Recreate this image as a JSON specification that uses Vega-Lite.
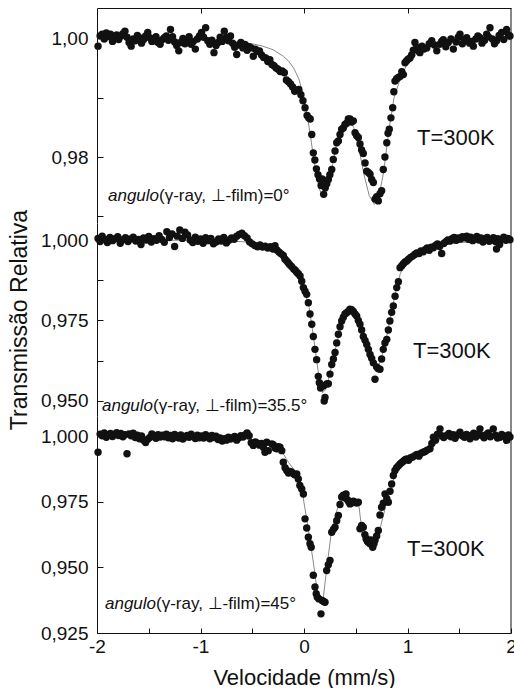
{
  "$schema": "https://vega.github.io/schema/vega-lite/v6.json",
  "padding": {"left": 8, "top": 7, "right": 0, "bottom": 0},
  "spacing": 0,
  "bounds": "flush",
  "config": {
    "view": {"stroke": null},
    "axis": {"grid": false, "domainColor": "#111", "tickColor": "#111", "labelColor": "#111", "titleColor": "#111", "labelFont": "Liberation Sans", "titleFont": "Liberation Sans", "titleFontWeight": "normal", "domainWidth": 1, "tickWidth": 1},
    "text": {"font": "Liberation Sans", "color": "#111"}
  },
  "datasets": {
    "p0": [
      {"v":-1.99,"t":0.9987},{"v":-1.97,"t":1.0004},{"v":-1.95,"t":1.0007},{"v":-1.93,"t":0.9999},{"v":-1.91,"t":1.0009},{"v":-1.89,"t":1.0003},{"v":-1.87,"t":1.0007},{"v":-1.85,"t":0.9995},{"v":-1.83,"t":1.0001},{"v":-1.81,"t":1.0006},{"v":-1.79,"t":0.9998},{"v":-1.77,"t":1.0004},{"v":-1.75,"t":1.0008},{"v":-1.73,"t":1.0012},{"v":-1.71,"t":1.0002},{"v":-1.69,"t":0.9993},{"v":-1.67,"t":0.9987},{"v":-1.65,"t":0.9999},{"v":-1.63,"t":0.9996},{"v":-1.61,"t":1.0005},{"v":-1.59,"t":1.0001},{"v":-1.57,"t":0.9992},{"v":-1.55,"t":0.9998},{"v":-1.53,"t":1.0004},{"v":-1.51,"t":1.0010},{"v":-1.49,"t":1.0001},{"v":-1.47,"t":0.9995},{"v":-1.45,"t":0.9996},{"v":-1.43,"t":1.0003},{"v":-1.41,"t":0.9993},{"v":-1.39,"t":0.9990},{"v":-1.37,"t":0.9998},{"v":-1.35,"t":1.0001},{"v":-1.33,"t":1.0004},{"v":-1.31,"t":0.9997},{"v":-1.29,"t":1.0015},{"v":-1.27,"t":1.0003},{"v":-1.25,"t":0.9994},{"v":-1.23,"t":0.9988},{"v":-1.21,"t":0.9979},{"v":-1.19,"t":0.9993},{"v":-1.17,"t":1.0000},{"v":-1.15,"t":0.9991},{"v":-1.13,"t":0.9996},{"v":-1.11,"t":1.0003},{"v":-1.09,"t":0.9990},{"v":-1.07,"t":0.9995},{"v":-1.05,"t":0.9982},{"v":-1.03,"t":0.9999},{"v":-1.01,"t":1.0004},{"v":-0.99,"t":1.0010},{"v":-0.97,"t":1.0002},{"v":-0.95,"t":1.0018},{"v":-0.93,"t":0.9996},{"v":-0.91,"t":0.9990},{"v":-0.89,"t":0.9997},{"v":-0.87,"t":0.9976},{"v":-0.85,"t":0.9988},{"v":-0.83,"t":0.9993},{"v":-0.81,"t":1.0002},{"v":-0.79,"t":0.9995},{"v":-0.77,"t":1.0012},{"v":-0.75,"t":1.0001},{"v":-0.73,"t":0.9996},{"v":-0.71,"t":1.0004},{"v":-0.69,"t":0.9992},{"v":-0.67,"t":0.9985},{"v":-0.65,"t":0.9973},{"v":-0.63,"t":0.9989},{"v":-0.61,"t":0.9993},{"v":-0.59,"t":0.9984},{"v":-0.57,"t":0.9990},{"v":-0.55,"t":0.9980},{"v":-0.53,"t":0.9986},{"v":-0.51,"t":0.9984},{"v":-0.49,"t":0.9970},{"v":-0.47,"t":0.9982},{"v":-0.45,"t":0.9978},{"v":-0.43,"t":0.9979},{"v":-0.41,"t":0.9972},{"v":-0.39,"t":0.9968},{"v":-0.37,"t":0.9967},{"v":-0.35,"t":0.9961},{"v":-0.33,"t":0.9964},{"v":-0.31,"t":0.9956},{"v":-0.29,"t":0.9954},{"v":-0.27,"t":0.9950},{"v":-0.25,"t":0.9948},{"v":-0.23,"t":0.9944},{"v":-0.21,"t":0.9945},{"v":-0.19,"t":0.9942},{"v":-0.17,"t":0.9930},{"v":-0.15,"t":0.9927},{"v":-0.13,"t":0.9923},{"v":-0.11,"t":0.9918},{"v":-0.09,"t":0.9911},{"v":-0.07,"t":0.9913},{"v":-0.05,"t":0.9914},{"v":-0.03,"t":0.9905},{"v":-0.01,"t":0.9895},{"v":0.01,"t":0.9883},{"v":0.03,"t":0.9870},{"v":0.045,"t":0.9866},{"v":0.06,"t":0.9864},{"v":0.075,"t":0.9838},{"v":0.09,"t":0.9807},{"v":0.105,"t":0.9795},{"v":0.12,"t":0.9780},{"v":0.135,"t":0.9770},{"v":0.15,"t":0.9763},{"v":0.165,"t":0.9752},{"v":0.175,"t":0.9763},{"v":0.19,"t":0.9737},{"v":0.205,"t":0.9748},{"v":0.22,"t":0.9755},{"v":0.235,"t":0.9762},{"v":0.25,"t":0.9770},{"v":0.268,"t":0.9779},{"v":0.283,"t":0.9796},{"v":0.30,"t":0.9810},{"v":0.316,"t":0.9824},{"v":0.332,"t":0.9827},{"v":0.348,"t":0.9838},{"v":0.364,"t":0.9847},{"v":0.38,"t":0.9849},{"v":0.396,"t":0.9855},{"v":0.412,"t":0.9857},{"v":0.428,"t":0.9864},{"v":0.444,"t":0.9864},{"v":0.46,"t":0.9859},{"v":0.477,"t":0.9861},{"v":0.493,"t":0.9841},{"v":0.509,"t":0.9836},{"v":0.525,"t":0.9833},{"v":0.541,"t":0.9822},{"v":0.557,"t":0.9812},{"v":0.573,"t":0.9806},{"v":0.59,"t":0.9790},{"v":0.606,"t":0.9776},{"v":0.622,"t":0.9774},{"v":0.638,"t":0.9771},{"v":0.654,"t":0.9762},{"v":0.67,"t":0.9757},{"v":0.686,"t":0.9729},{"v":0.702,"t":0.9733},{"v":0.718,"t":0.9726},{"v":0.734,"t":0.9738},{"v":0.75,"t":0.9743},{"v":0.766,"t":0.9779},{"v":0.782,"t":0.9800},{"v":0.80,"t":0.9824},{"v":0.812,"t":0.9840},{"v":0.824,"t":0.9847},{"v":0.84,"t":0.9866},{"v":0.857,"t":0.9883},{"v":0.868,"t":0.9910},{"v":0.879,"t":0.9928},{"v":0.895,"t":0.9932},{"v":0.911,"t":0.9934},{"v":0.93,"t":0.9936},{"v":0.945,"t":0.9944},{"v":0.96,"t":0.9939},{"v":0.976,"t":0.9959},{"v":0.99,"t":0.9962},{"v":1.005,"t":0.9965},{"v":1.024,"t":0.9967},{"v":1.04,"t":0.9972},{"v":1.056,"t":0.9980},{"v":1.072,"t":0.9993},{"v":1.09,"t":0.9985},{"v":1.105,"t":0.9979},{"v":1.12,"t":0.9976},{"v":1.14,"t":0.9987},{"v":1.16,"t":0.9982},{"v":1.186,"t":0.9984},{"v":1.21,"t":0.9991},{"v":1.234,"t":0.9996},{"v":1.26,"t":0.9989},{"v":1.283,"t":0.9979},{"v":1.31,"t":0.9990},{"v":1.33,"t":0.9995},{"v":1.346,"t":0.9998},{"v":1.37,"t":0.9986},{"v":1.394,"t":0.9993},{"v":1.42,"t":0.9999},{"v":1.443,"t":0.9982},{"v":1.47,"t":0.9994},{"v":1.49,"t":1.0002},{"v":1.507,"t":1.0007},{"v":1.53,"t":0.9991},{"v":1.55,"t":0.9998},{"v":1.572,"t":1.0001},{"v":1.60,"t":0.9992},{"v":1.62,"t":0.9995},{"v":1.636,"t":0.9987},{"v":1.66,"t":0.9999},{"v":1.68,"t":1.0004},{"v":1.70,"t":1.0001},{"v":1.72,"t":0.9992},{"v":1.745,"t":0.9997},{"v":1.765,"t":1.0007},{"v":1.78,"t":1.0003},{"v":1.797,"t":1.0018},{"v":1.82,"t":0.9999},{"v":1.84,"t":0.9991},{"v":1.861,"t":0.9996},{"v":1.885,"t":1.0005},{"v":1.91,"t":1.0010},{"v":1.93,"t":0.9998},{"v":1.958,"t":1.0015},{"v":1.975,"t":1.0006},{"v":1.99,"t":1.0004}
    ],
    "f0": [
      {"v":-2.0,"t":1.0000},{"v":-1.5,"t":0.9999},{"v":-1.0,"t":0.9998},{"v":-0.7,"t":0.9995},{"v":-0.5,"t":0.9991},{"v":-0.4,"t":0.9987},{"v":-0.3,"t":0.9981},{"v":-0.2,"t":0.9970},{"v":-0.15,"t":0.9962},{"v":-0.1,"t":0.9950},{"v":-0.05,"t":0.9932},{"v":0.0,"t":0.9900},{"v":0.05,"t":0.9850},{"v":0.1,"t":0.9790},{"v":0.15,"t":0.9745},{"v":0.19,"t":0.9731},{"v":0.23,"t":0.9745},{"v":0.28,"t":0.9790},{"v":0.33,"t":0.9835},{"v":0.38,"t":0.9858},{"v":0.43,"t":0.9864},{"v":0.48,"t":0.9850},{"v":0.53,"t":0.9815},{"v":0.58,"t":0.9770},{"v":0.63,"t":0.9735},{"v":0.68,"t":0.9720},{"v":0.72,"t":0.9730},{"v":0.77,"t":0.9775},{"v":0.82,"t":0.9845},{"v":0.87,"t":0.9900},{"v":0.93,"t":0.9932},{"v":1.0,"t":0.9958},{"v":1.1,"t":0.9976},{"v":1.2,"t":0.9986},{"v":1.4,"t":0.9993},{"v":1.7,"t":0.9997},{"v":2.0,"t":0.9998}
    ],
    "p35": [
      {"v":-1.99,"t":1.0005},{"v":-1.97,"t":0.9995},{"v":-1.95,"t":1.0012},{"v":-1.925,"t":1.0002},{"v":-1.90,"t":0.9992},{"v":-1.875,"t":1.0008},{"v":-1.85,"t":0.9998},{"v":-1.825,"t":1.0004},{"v":-1.80,"t":1.0010},{"v":-1.775,"t":0.9990},{"v":-1.75,"t":1.0001},{"v":-1.725,"t":1.0007},{"v":-1.70,"t":0.9995},{"v":-1.675,"t":1.0003},{"v":-1.65,"t":1.0009},{"v":-1.625,"t":0.9997},{"v":-1.60,"t":1.0002},{"v":-1.575,"t":0.9986},{"v":-1.55,"t":1.0006},{"v":-1.525,"t":1.0000},{"v":-1.50,"t":1.0011},{"v":-1.475,"t":0.9994},{"v":-1.45,"t":1.0004},{"v":-1.425,"t":0.9999},{"v":-1.40,"t":1.0013},{"v":-1.375,"t":1.0002},{"v":-1.35,"t":0.9993},{"v":-1.325,"t":1.0026},{"v":-1.30,"t":1.0008},{"v":-1.275,"t":1.0019},{"v":-1.25,"t":0.9980},{"v":-1.225,"t":1.0012},{"v":-1.20,"t":1.0031},{"v":-1.175,"t":1.0005},{"v":-1.15,"t":1.0024},{"v":-1.125,"t":1.0016},{"v":-1.10,"t":1.0000},{"v":-1.075,"t":0.9992},{"v":-1.05,"t":1.0009},{"v":-1.025,"t":0.9996},{"v":-1.00,"t":1.0003},{"v":-0.975,"t":0.9990},{"v":-0.95,"t":1.0007},{"v":-0.925,"t":0.9998},{"v":-0.90,"t":1.0005},{"v":-0.875,"t":0.9988},{"v":-0.85,"t":0.9994},{"v":-0.825,"t":1.0003},{"v":-0.80,"t":0.9997},{"v":-0.775,"t":1.0008},{"v":-0.75,"t":0.9991},{"v":-0.725,"t":0.9999},{"v":-0.70,"t":1.0006},{"v":-0.675,"t":1.0002},{"v":-0.65,"t":1.0012},{"v":-0.625,"t":1.0017},{"v":-0.60,"t":1.0021},{"v":-0.575,"t":1.0013},{"v":-0.55,"t":1.0006},{"v":-0.525,"t":0.9994},{"v":-0.50,"t":0.9988},{"v":-0.475,"t":0.9983},{"v":-0.45,"t":0.9979},{"v":-0.425,"t":0.9985},{"v":-0.40,"t":0.9978},{"v":-0.375,"t":0.9981},{"v":-0.35,"t":0.9975},{"v":-0.325,"t":0.9979},{"v":-0.30,"t":0.9972},{"v":-0.28,"t":0.9982},{"v":-0.26,"t":0.9968},{"v":-0.24,"t":0.9962},{"v":-0.22,"t":0.9957},{"v":-0.20,"t":0.9952},{"v":-0.185,"t":0.9941},{"v":-0.17,"t":0.9936},{"v":-0.155,"t":0.9930},{"v":-0.14,"t":0.9924},{"v":-0.12,"t":0.9918},{"v":-0.10,"t":0.9910},{"v":-0.085,"t":0.9906},{"v":-0.07,"t":0.9900},{"v":-0.055,"t":0.9895},{"v":-0.038,"t":0.9888},{"v":-0.022,"t":0.9872},{"v":-0.006,"t":0.9852},{"v":0.01,"t":0.9841},{"v":0.026,"t":0.9831},{"v":0.042,"t":0.9805},{"v":0.058,"t":0.9770},{"v":0.075,"t":0.9738},{"v":0.09,"t":0.9700},{"v":0.106,"t":0.9660},{"v":0.122,"t":0.9628},{"v":0.138,"t":0.9576},{"v":0.148,"t":0.9556},{"v":0.16,"t":0.9540},{"v":0.172,"t":0.9548},{"v":0.186,"t":0.9546},{"v":0.195,"t":0.9499},{"v":0.203,"t":0.9510},{"v":0.219,"t":0.9552},{"v":0.235,"t":0.9553},{"v":0.251,"t":0.9583},{"v":0.268,"t":0.9613},{"v":0.284,"t":0.9630},{"v":0.30,"t":0.9650},{"v":0.316,"t":0.9680},{"v":0.332,"t":0.9707},{"v":0.348,"t":0.9730},{"v":0.364,"t":0.9748},{"v":0.38,"t":0.9760},{"v":0.396,"t":0.9770},{"v":0.412,"t":0.9774},{"v":0.428,"t":0.9778},{"v":0.444,"t":0.9785},{"v":0.46,"t":0.9783},{"v":0.477,"t":0.9778},{"v":0.493,"t":0.9770},{"v":0.509,"t":0.9764},{"v":0.525,"t":0.9750},{"v":0.541,"t":0.9738},{"v":0.557,"t":0.9720},{"v":0.573,"t":0.9700},{"v":0.59,"t":0.9688},{"v":0.606,"t":0.9675},{"v":0.622,"t":0.9660},{"v":0.638,"t":0.9644},{"v":0.654,"t":0.9632},{"v":0.67,"t":0.9618},{"v":0.686,"t":0.9567},{"v":0.702,"t":0.9605},{"v":0.718,"t":0.9600},{"v":0.734,"t":0.9598},{"v":0.75,"t":0.9630},{"v":0.766,"t":0.9660},{"v":0.782,"t":0.9680},{"v":0.80,"t":0.9691},{"v":0.815,"t":0.9720},{"v":0.83,"t":0.9748},{"v":0.847,"t":0.9775},{"v":0.863,"t":0.9795},{"v":0.88,"t":0.9825},{"v":0.896,"t":0.9852},{"v":0.912,"t":0.9870},{"v":0.928,"t":0.9914},{"v":0.945,"t":0.9920},{"v":0.96,"t":0.9926},{"v":0.976,"t":0.9932},{"v":0.993,"t":0.9935},{"v":1.01,"t":0.9940},{"v":1.03,"t":0.9946},{"v":1.05,"t":0.9950},{"v":1.07,"t":0.9955},{"v":1.089,"t":0.9960},{"v":1.11,"t":0.9958},{"v":1.13,"t":0.9966},{"v":1.15,"t":0.9963},{"v":1.17,"t":0.9970},{"v":1.19,"t":0.9975},{"v":1.21,"t":0.9968},{"v":1.23,"t":0.9978},{"v":1.25,"t":0.9976},{"v":1.27,"t":0.9983},{"v":1.29,"t":0.9988},{"v":1.31,"t":0.9980},{"v":1.33,"t":0.9958},{"v":1.35,"t":0.9989},{"v":1.37,"t":0.9995},{"v":1.39,"t":1.0000},{"v":1.41,"t":0.9997},{"v":1.43,"t":1.0004},{"v":1.45,"t":1.0008},{"v":1.47,"t":0.9999},{"v":1.49,"t":1.0006},{"v":1.51,"t":1.0003},{"v":1.53,"t":1.0010},{"v":1.55,"t":1.0007},{"v":1.572,"t":1.0012},{"v":1.59,"t":1.0002},{"v":1.61,"t":1.0009},{"v":1.63,"t":0.9998},{"v":1.65,"t":1.0005},{"v":1.67,"t":1.0011},{"v":1.69,"t":1.0000},{"v":1.71,"t":1.0006},{"v":1.73,"t":0.9994},{"v":1.75,"t":1.0003},{"v":1.77,"t":1.0008},{"v":1.79,"t":0.9996},{"v":1.81,"t":1.0001},{"v":1.83,"t":1.0007},{"v":1.85,"t":0.9995},{"v":1.86,"t":0.9972},{"v":1.87,"t":1.0004},{"v":1.89,"t":0.9986},{"v":1.91,"t":1.0002},{"v":1.93,"t":1.0009},{"v":1.95,"t":0.9999},{"v":1.97,"t":1.0005},{"v":1.99,"t":1.0001}
    ],
    "f35": [
      {"v":-2.0,"t":1.0000},{"v":-1.0,"t":0.9999},{"v":-0.6,"t":0.9995},{"v":-0.45,"t":0.9988},{"v":-0.3,"t":0.9978},{"v":-0.2,"t":0.9955},{"v":-0.1,"t":0.9910},{"v":0.0,"t":0.9850},{"v":0.05,"t":0.9790},{"v":0.1,"t":0.9680},{"v":0.15,"t":0.9560},{"v":0.18,"t":0.9525},{"v":0.21,"t":0.9535},{"v":0.25,"t":0.9585},{"v":0.3,"t":0.9655},{"v":0.35,"t":0.9725},{"v":0.4,"t":0.9765},{"v":0.45,"t":0.9778},{"v":0.5,"t":0.9765},{"v":0.55,"t":0.9728},{"v":0.6,"t":0.9678},{"v":0.65,"t":0.9630},{"v":0.69,"t":0.9605},{"v":0.73,"t":0.9615},{"v":0.78,"t":0.9670},{"v":0.83,"t":0.9750},{"v":0.88,"t":0.9830},{"v":0.93,"t":0.9895},{"v":0.98,"t":0.9930},{"v":1.05,"t":0.9953},{"v":1.15,"t":0.9968},{"v":1.3,"t":0.9982},{"v":1.5,"t":0.9992},{"v":1.8,"t":0.9997},{"v":2.0,"t":0.9998}
    ],
    "p45": [
      {"v":-1.99,"t":0.9939},{"v":-1.97,"t":1.0008},{"v":-1.95,"t":1.0002},{"v":-1.93,"t":1.0012},{"v":-1.91,"t":0.9996},{"v":-1.89,"t":1.0005},{"v":-1.87,"t":1.0010},{"v":-1.85,"t":0.9999},{"v":-1.83,"t":1.0007},{"v":-1.81,"t":1.0013},{"v":-1.79,"t":1.0003},{"v":-1.77,"t":1.0010},{"v":-1.75,"t":0.9998},{"v":-1.73,"t":1.0006},{"v":-1.71,"t":0.9933},{"v":-1.69,"t":1.0009},{"v":-1.67,"t":1.0002},{"v":-1.65,"t":1.0011},{"v":-1.63,"t":0.9995},{"v":-1.61,"t":1.0004},{"v":-1.59,"t":0.9990},{"v":-1.57,"t":1.0001},{"v":-1.55,"t":0.9985},{"v":-1.53,"t":0.9976},{"v":-1.51,"t":0.9988},{"v":-1.49,"t":0.9995},{"v":-1.47,"t":1.0009},{"v":-1.45,"t":1.0002},{"v":-1.43,"t":0.9992},{"v":-1.41,"t":1.0006},{"v":-1.39,"t":0.9997},{"v":-1.37,"t":1.0004},{"v":-1.35,"t":0.9998},{"v":-1.33,"t":1.0008},{"v":-1.31,"t":0.9994},{"v":-1.29,"t":1.0003},{"v":-1.27,"t":0.9990},{"v":-1.25,"t":1.0007},{"v":-1.23,"t":1.0000},{"v":-1.21,"t":0.9993},{"v":-1.19,"t":1.0005},{"v":-1.17,"t":0.9989},{"v":-1.15,"t":0.9997},{"v":-1.13,"t":1.0003},{"v":-1.11,"t":0.9996},{"v":-1.09,"t":1.0008},{"v":-1.07,"t":0.9999},{"v":-1.05,"t":0.9991},{"v":-1.03,"t":1.0004},{"v":-1.01,"t":0.9994},{"v":-0.99,"t":1.0001},{"v":-0.97,"t":0.9993},{"v":-0.95,"t":1.0006},{"v":-0.93,"t":0.9997},{"v":-0.91,"t":0.9990},{"v":-0.89,"t":1.0003},{"v":-0.87,"t":0.9995},{"v":-0.85,"t":1.0000},{"v":-0.83,"t":0.9987},{"v":-0.81,"t":0.9993},{"v":-0.79,"t":0.9982},{"v":-0.77,"t":0.9990},{"v":-0.75,"t":0.9985},{"v":-0.73,"t":0.9996},{"v":-0.71,"t":0.9989},{"v":-0.69,"t":0.9993},{"v":-0.67,"t":0.9999},{"v":-0.65,"t":0.9985},{"v":-0.63,"t":0.9994},{"v":-0.61,"t":1.0002},{"v":-0.59,"t":0.9997},{"v":-0.57,"t":1.0005},{"v":-0.55,"t":1.0012},{"v":-0.53,"t":1.0002},{"v":-0.51,"t":0.9975},{"v":-0.49,"t":0.9965},{"v":-0.47,"t":0.9978},{"v":-0.45,"t":0.9973},{"v":-0.43,"t":0.9966},{"v":-0.41,"t":0.9972},{"v":-0.393,"t":0.9958},{"v":-0.377,"t":0.9939},{"v":-0.36,"t":0.9977},{"v":-0.345,"t":0.9945},{"v":-0.31,"t":0.9970},{"v":-0.297,"t":0.9968},{"v":-0.28,"t":0.9955},{"v":-0.264,"t":0.9952},{"v":-0.248,"t":0.9960},{"v":-0.232,"t":0.9958},{"v":-0.215,"t":0.9945},{"v":-0.20,"t":0.9901},{"v":-0.183,"t":0.9880},{"v":-0.167,"t":0.9869},{"v":-0.15,"t":0.9860},{"v":-0.135,"t":0.9866},{"v":-0.119,"t":0.9863},{"v":-0.10,"t":0.9856},{"v":-0.085,"t":0.9852},{"v":-0.07,"t":0.9856},{"v":-0.055,"t":0.9837},{"v":-0.04,"t":0.9812},{"v":-0.022,"t":0.9799},{"v":-0.006,"t":0.9780},{"v":0.01,"t":0.9685},{"v":0.026,"t":0.9650},{"v":0.042,"t":0.9615},{"v":0.058,"t":0.9590},{"v":0.07,"t":0.9577},{"v":0.09,"t":0.9470},{"v":0.106,"t":0.9425},{"v":0.118,"t":0.9400},{"v":0.129,"t":0.9386},{"v":0.145,"t":0.9380},{"v":0.164,"t":0.9323},{"v":0.175,"t":0.9374},{"v":0.19,"t":0.9370},{"v":0.203,"t":0.9367},{"v":0.219,"t":0.9488},{"v":0.235,"t":0.9510},{"v":0.251,"t":0.9526},{"v":0.268,"t":0.9634},{"v":0.284,"t":0.9645},{"v":0.30,"t":0.9653},{"v":0.316,"t":0.9678},{"v":0.332,"t":0.9698},{"v":0.348,"t":0.9740},{"v":0.364,"t":0.9768},{"v":0.38,"t":0.9775},{"v":0.394,"t":0.9765},{"v":0.406,"t":0.9780},{"v":0.42,"t":0.9758},{"v":0.432,"t":0.9750},{"v":0.444,"t":0.9742},{"v":0.46,"t":0.9745},{"v":0.477,"t":0.9752},{"v":0.493,"t":0.9748},{"v":0.509,"t":0.9745},{"v":0.525,"t":0.9748},{"v":0.541,"t":0.9647},{"v":0.557,"t":0.9660},{"v":0.573,"t":0.9653},{"v":0.588,"t":0.9625},{"v":0.60,"t":0.9609},{"v":0.612,"t":0.9600},{"v":0.621,"t":0.9596},{"v":0.638,"t":0.9590},{"v":0.65,"t":0.9605},{"v":0.664,"t":0.9577},{"v":0.676,"t":0.9590},{"v":0.686,"t":0.9603},{"v":0.702,"t":0.9620},{"v":0.718,"t":0.9641},{"v":0.734,"t":0.9700},{"v":0.75,"t":0.9729},{"v":0.766,"t":0.9745},{"v":0.783,"t":0.9780},{"v":0.80,"t":0.9762},{"v":0.815,"t":0.9748},{"v":0.831,"t":0.9790},{"v":0.847,"t":0.9818},{"v":0.863,"t":0.9850},{"v":0.879,"t":0.9869},{"v":0.895,"t":0.9880},{"v":0.912,"t":0.9887},{"v":0.928,"t":0.9894},{"v":0.945,"t":0.9900},{"v":0.96,"t":0.9905},{"v":0.976,"t":0.9910},{"v":0.992,"t":0.9913},{"v":1.01,"t":0.9908},{"v":1.03,"t":0.9918},{"v":1.05,"t":0.9921},{"v":1.072,"t":0.9926},{"v":1.09,"t":0.9930},{"v":1.11,"t":0.9924},{"v":1.13,"t":0.9935},{"v":1.153,"t":0.9939},{"v":1.17,"t":0.9942},{"v":1.19,"t":0.9947},{"v":1.217,"t":0.9952},{"v":1.235,"t":0.9972},{"v":1.25,"t":0.9996},{"v":1.27,"t":0.9985},{"v":1.29,"t":1.0008},{"v":1.314,"t":1.0028},{"v":1.33,"t":1.0002},{"v":1.35,"t":0.9995},{"v":1.379,"t":1.0003},{"v":1.40,"t":1.0010},{"v":1.42,"t":0.9998},{"v":1.44,"t":1.0006},{"v":1.46,"t":0.9992},{"v":1.48,"t":1.0005},{"v":1.507,"t":1.0015},{"v":1.53,"t":1.0002},{"v":1.55,"t":0.9996},{"v":1.57,"t":1.0007},{"v":1.59,"t":0.9999},{"v":1.604,"t":0.9990},{"v":1.62,"t":1.0004},{"v":1.64,"t":1.0011},{"v":1.66,"t":0.9997},{"v":1.68,"t":1.0008},{"v":1.70,"t":1.0028},{"v":1.72,"t":1.0002},{"v":1.74,"t":0.9994},{"v":1.76,"t":1.0006},{"v":1.78,"t":1.0012},{"v":1.80,"t":0.9998},{"v":1.829,"t":1.0028},{"v":1.85,"t":1.0004},{"v":1.87,"t":0.9993},{"v":1.894,"t":0.9996},{"v":1.91,"t":1.0007},{"v":1.93,"t":1.0001},{"v":1.958,"t":0.9984},{"v":1.975,"t":1.0005},{"v":1.99,"t":0.9997}
    ],
    "f45": [
      {"v":-2.0,"t":1.0000},{"v":-1.0,"t":0.9999},{"v":-0.6,"t":0.9993},{"v":-0.45,"t":0.9980},{"v":-0.35,"t":0.9967},{"v":-0.25,"t":0.9950},{"v":-0.2,"t":0.9933},{"v":-0.15,"t":0.9900},{"v":-0.1,"t":0.9875},{"v":-0.06,"t":0.9850},{"v":-0.022,"t":0.9799},{"v":0.026,"t":0.9685},{"v":0.09,"t":0.9520},{"v":0.138,"t":0.9380},{"v":0.18,"t":0.9362},{"v":0.219,"t":0.9494},{"v":0.268,"t":0.9647},{"v":0.32,"t":0.9720},{"v":0.364,"t":0.9774},{"v":0.406,"t":0.9774},{"v":0.444,"t":0.9745},{"v":0.525,"t":0.9752},{"v":0.557,"t":0.9650},{"v":0.621,"t":0.9622},{"v":0.686,"t":0.9603},{"v":0.734,"t":0.9647},{"v":0.783,"t":0.9723},{"v":0.847,"t":0.9812},{"v":0.896,"t":0.9875},{"v":0.95,"t":0.9898},{"v":1.024,"t":0.9913},{"v":1.12,"t":0.9930},{"v":1.217,"t":0.9945},{"v":1.314,"t":0.9990},{"v":1.5,"t":0.9998},{"v":2.0,"t":1.0000}
    ]
  },
  "vconcat": [
    {
      "width": 414, "height": 215,
      "layer": [
        {"data": {"name": "f0"}, "mark": {"type": "line", "color": "#8a8a8a", "strokeWidth": 1},
         "encoding": {
           "x": {"field": "v", "type": "quantitative", "scale": {"domain": [-2, 2], "nice": false, "zero": false},
                 "axis": {"orient": "top", "title": null, "labels": false, "values": [-1, 0, 1], "tickSize": -5, "domain": true}},
           "y": {"field": "t", "type": "quantitative", "scale": {"domain": [0.96887, 1.00513], "nice": false, "zero": false},
                 "axis": {"title": null, "values": [0.97, 0.98, 0.99, 1.0], "tickSize": -6, "labelPadding": 15, "labelFontSize": 19, "labelExpr": "datum.value == 0.99 || datum.value == 0.97 ? '' : replace(format(datum.value, '.2f'), '.', ',')"}}}},
        {"data": {"name": "p0"}, "mark": {"type": "circle", "size": 55, "color": "#111", "opacity": 1},
         "encoding": {"x": {"field": "v", "type": "quantitative"}, "y": {"field": "t", "type": "quantitative"}}},
        {"data": {"values": [{}]}, "mark": {"type": "rule", "color": "#111", "strokeWidth": 1},
         "encoding": {"x": {"datum": 2, "type": "quantitative"}}},
        {"data": {"values": [{"v": -1.894, "t": 0.9734, "s": "angulo"}]}, "mark": {"type": "text", "align": "left", "baseline": "middle", "fontSize": 17, "fontStyle": "italic"},
         "encoding": {"x": {"field": "v", "type": "quantitative"}, "y": {"field": "t", "type": "quantitative"}, "text": {"field": "s"}}},
        {"data": {"values": [{"v": -1.401, "t": 0.9734, "s": "(γ-ray, ⊥-film)=0°"}]}, "mark": {"type": "text", "align": "left", "baseline": "middle", "fontSize": 17},
         "encoding": {"x": {"field": "v", "type": "quantitative"}, "y": {"field": "t", "type": "quantitative"}, "text": {"field": "s"}}},
        {"data": {"values": [{"v": 1.092, "t": 0.9832, "s": "T=300K"}]}, "mark": {"type": "text", "align": "left", "baseline": "middle", "fontSize": 22},
         "encoding": {"x": {"field": "v", "type": "quantitative"}, "y": {"field": "t", "type": "quantitative"}, "text": {"field": "s"}}}
      ]
    },
    {
      "width": 414, "height": 193,
      "layer": [
        {"data": {"name": "f35"}, "mark": {"type": "line", "color": "#8a8a8a", "strokeWidth": 1},
         "encoding": {
           "x": {"field": "v", "type": "quantitative", "scale": {"domain": [-2, 2], "nice": false, "zero": false}, "axis": null},
           "y": {"field": "t", "type": "quantitative", "scale": {"domain": [0.94527, 1.00529], "nice": false, "zero": false},
                 "axis": {"title": "Transmissão Relativa", "titleFontSize": 23, "titlePadding": 9, "values": [0.95, 0.9625, 0.975, 0.9875, 1.0], "tickSize": -6, "labelPadding": 15, "labelFontSize": 19, "labelExpr": "datum.value == 0.9625 || datum.value == 0.9875 ? '' : replace(format(datum.value, '.3f'), '.', ',')"}}}},
        {"data": {"name": "p35"}, "mark": {"type": "circle", "size": 55, "color": "#111", "opacity": 1},
         "encoding": {"x": {"field": "v", "type": "quantitative"}, "y": {"field": "t", "type": "quantitative"}}},
        {"data": {"values": [{}]}, "mark": {"type": "rule", "color": "#111", "strokeWidth": 1},
         "encoding": {"x": {"datum": 2, "type": "quantitative"}}},
        {"data": {"values": [{"v": -1.952, "t": 0.9484, "s": "angulo"}]}, "mark": {"type": "text", "align": "left", "baseline": "middle", "fontSize": 17, "fontStyle": "italic"},
         "encoding": {"x": {"field": "v", "type": "quantitative"}, "y": {"field": "t", "type": "quantitative"}, "text": {"field": "s"}}},
        {"data": {"values": [{"v": -1.459, "t": 0.9484, "s": "(γ-ray, ⊥-film)=35.5°"}]}, "mark": {"type": "text", "align": "left", "baseline": "middle", "fontSize": 17},
         "encoding": {"x": {"field": "v", "type": "quantitative"}, "y": {"field": "t", "type": "quantitative"}, "text": {"field": "s"}}},
        {"data": {"values": [{"v": 1.053, "t": 0.9655, "s": "T=300K"}]}, "mark": {"type": "text", "align": "left", "baseline": "middle", "fontSize": 22},
         "encoding": {"x": {"field": "v", "type": "quantitative"}, "y": {"field": "t", "type": "quantitative"}, "text": {"field": "s"}}}
      ]
    },
    {
      "width": 414, "height": 217,
      "layer": [
        {"data": {"name": "f45"}, "mark": {"type": "line", "color": "#8a8a8a", "strokeWidth": 1},
         "encoding": {
           "x": {"field": "v", "type": "quantitative", "scale": {"domain": [-2, 2], "nice": false, "zero": false},
                 "axis": {"title": "Velocidade (mm/s)", "titleFontSize": 22, "titlePadding": 11, "values": [-2, -1.5, -1, -0.5, 0, 0.5, 1, 1.5, 2], "tickSize": -5, "labelPadding": 9, "labelFontSize": 19, "labelFlush": false, "labelOverlap": false, "labelExpr": "datum.value % 1 == 0 ? '' + datum.value : ''"}},
           "y": {"field": "t", "type": "quantitative", "scale": {"domain": [0.925, 1.0077], "nice": false, "zero": false},
                 "axis": {"title": null, "values": [0.925, 0.9375, 0.95, 0.9625, 0.975, 0.9875, 1.0], "tickSize": -6, "labelPadding": 15, "labelFontSize": 19, "labelExpr": "datum.value == 0.9375 || datum.value == 0.9625 || datum.value == 0.9875 ? '' : replace(format(datum.value, '.3f'), '.', ',')"}}}},
        {"data": {"name": "p45"}, "mark": {"type": "circle", "size": 55, "color": "#111", "opacity": 1},
         "encoding": {"x": {"field": "v", "type": "quantitative"}, "y": {"field": "t", "type": "quantitative"}}},
        {"data": {"values": [{}]}, "mark": {"type": "rule", "color": "#111", "strokeWidth": 1},
         "encoding": {"x": {"datum": 2, "type": "quantitative"}}},
        {"data": {"values": [{"v": -1.923, "t": 0.936, "s": "angulo"}]}, "mark": {"type": "text", "align": "left", "baseline": "middle", "fontSize": 17, "fontStyle": "italic"},
         "encoding": {"x": {"field": "v", "type": "quantitative"}, "y": {"field": "t", "type": "quantitative"}, "text": {"field": "s"}}},
        {"data": {"values": [{"v": -1.430, "t": 0.936, "s": "(γ-ray, ⊥-film)=45°"}]}, "mark": {"type": "text", "align": "left", "baseline": "middle", "fontSize": 17},
         "encoding": {"x": {"field": "v", "type": "quantitative"}, "y": {"field": "t", "type": "quantitative"}, "text": {"field": "s"}}},
        {"data": {"values": [{"v": 0.995, "t": 0.9569, "s": "T=300K"}]}, "mark": {"type": "text", "align": "left", "baseline": "middle", "fontSize": 22},
         "encoding": {"x": {"field": "v", "type": "quantitative"}, "y": {"field": "t", "type": "quantitative"}, "text": {"field": "s"}}}
      ]
    }
  ]
}
